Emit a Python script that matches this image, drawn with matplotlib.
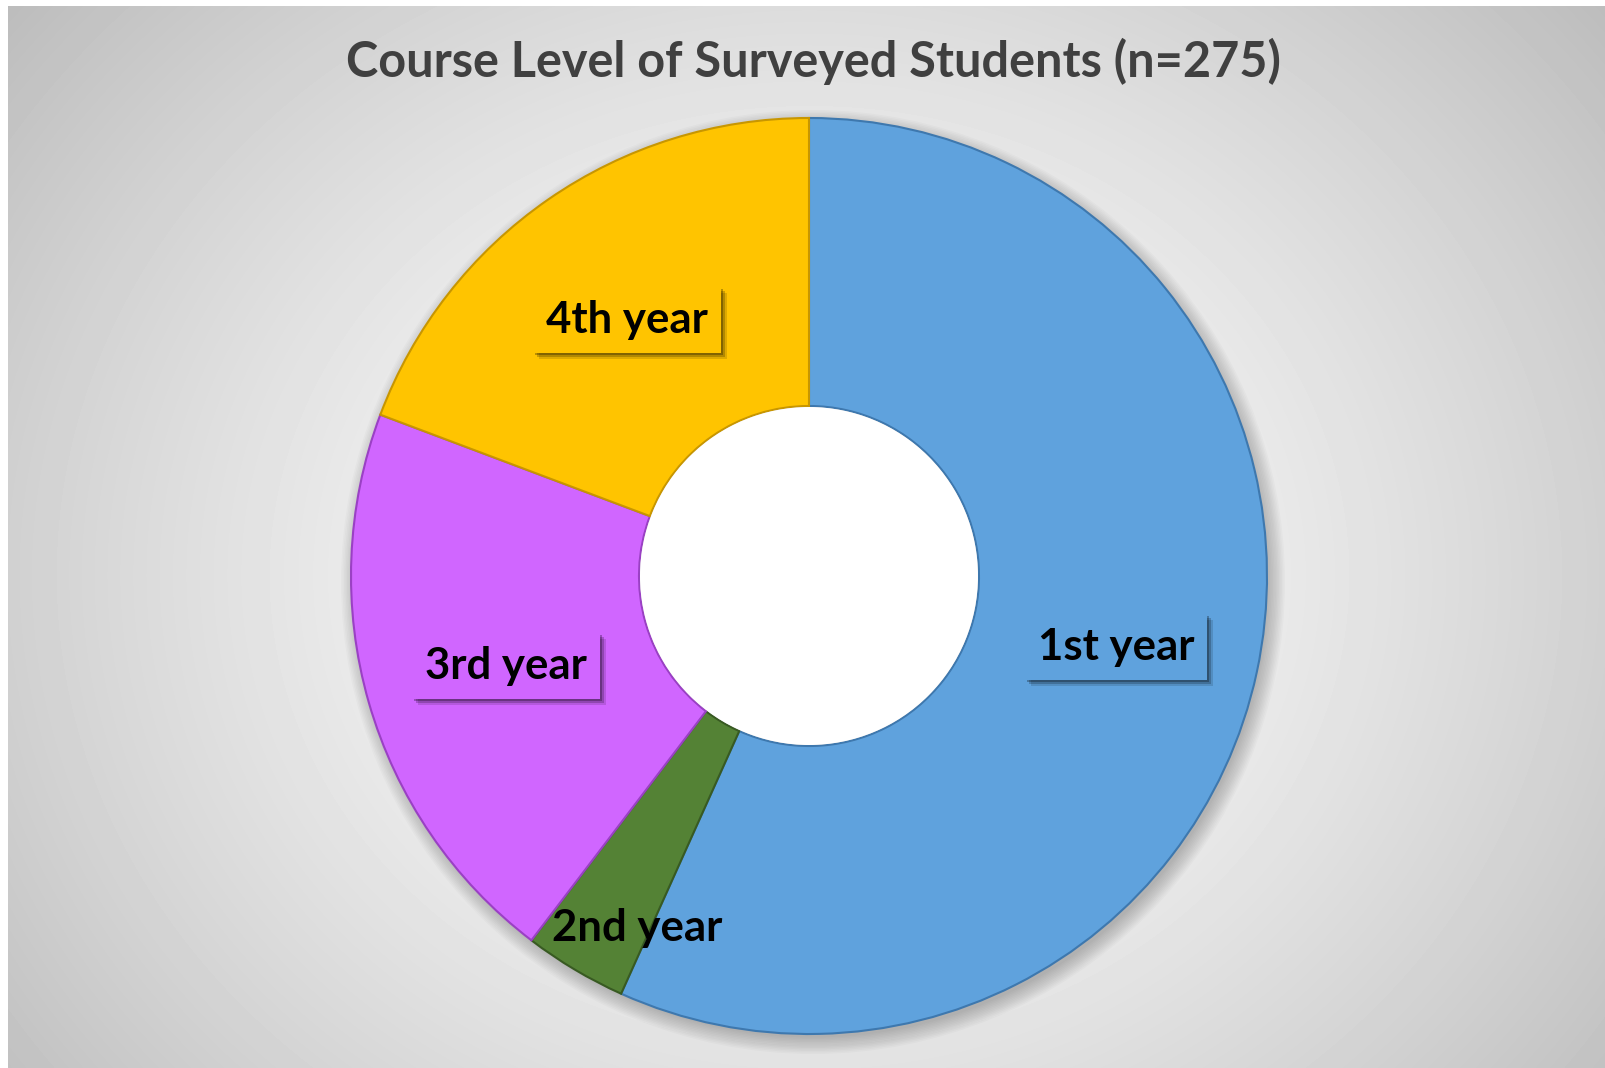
import numpy as np
import matplotlib.pyplot as plt
from matplotlib.patches import Circle, Rectangle

#============================================
# data
#============================================
labels = ['1st year', '2nd year', '3rd year', '4th year']
counts = [156, 10, 56, 53]
colors = ['#5FA2DD', '#548235', '#D066FF', '#FFC400']
edges = ['#3E78AE', '#385A22', '#9A40C4', '#C89600']
title = 'Course Level of Surveyed Students (n=275)'

W, H = 1605, 1068
fig = plt.figure(figsize=(W / 100, H / 100), dpi=100)
fig.patch.set_facecolor('white')
ax = fig.add_axes([0, 0, 1, 1])

# radial gray background
cx, cy = 809, H - 576
xx, yy = np.meshgrid(np.arange(8, W), np.arange(0, H - 6))
d = np.sqrt((xx - cx) ** 2 + ((yy - cy) * 1.15) ** 2) / 1000.0
bg = np.clip(1.0 - 0.25 * d ** 1.4, 0, 1)
ax.imshow(bg, cmap='gray', vmin=0, vmax=1, extent=(8, W, 0, H - 6),
          origin='lower', zorder=0, interpolation='bilinear')

R, r_in = 458, 170

# soft shadow behind donut
for i in range(12):
    ax.add_patch(Circle((cx + 4, cy - 6), R + 14 - i * 1.5, color='k',
                        alpha=0.018, lw=0, zorder=1))

wedges, _ = ax.pie(counts, colors=colors, startangle=90, counterclock=False,
                   center=(cx, cy), radius=R, frame=True,
                   wedgeprops=dict(width=R - r_in, linewidth=1.5))
for w, ec in zip(wedges, edges):
    w.set_edgecolor(ec)
    w.set_zorder(2)
ax.set_xlim(0, W)
ax.set_ylim(0, H)
ax.set_aspect('auto')
ax.axis('off')

# white hole
ax.add_patch(Circle((cx, cy), r_in - 1, color='white', lw=0, zorder=3))

# labels
pos = {'1st year': (1116, H - 647), '2nd year': (637, H - 928),
       '3rd year': (506, H - 666), '4th year': (627, H - 320)}
boxed = []
for lab, col in zip(labels, colors):
    x, y = pos[lab]
    kw = dict(fontsize=31.5, fontweight='bold', family=['Lato', 'DejaVu Sans'],
              ha='center', va='center', zorder=6)
    if lab == '2nd year':
        ax.text(x, y, lab, color='black', **kw)
        continue
    t = ax.text(x, y, lab, color='black',
                bbox=dict(boxstyle='square,pad=0.3', fc=col, ec='none'), **kw)
    boxed.append(t)

ax.text(813, H - 61, title, fontsize=35, fontweight='bold', color='#404040',
        family=['Lato', 'DejaVu Sans'], ha='center', va='center', zorder=6)

# soft shadows under label boxes (axes data units == pixels here)
fig.canvas.draw()
inv = ax.transData.inverted()
for t in boxed:
    bb = t.get_bbox_patch().get_window_extent().transformed(inv)
    for k, a in [(6, 0.13), (4, 0.2), (2, 0.27)]:
        ax.add_patch(Rectangle((bb.x0 + k, bb.y0 - k), bb.width, bb.height,
                               fc='black', alpha=a, lw=0, zorder=5))

plt.savefig('out.png', dpi=100)
